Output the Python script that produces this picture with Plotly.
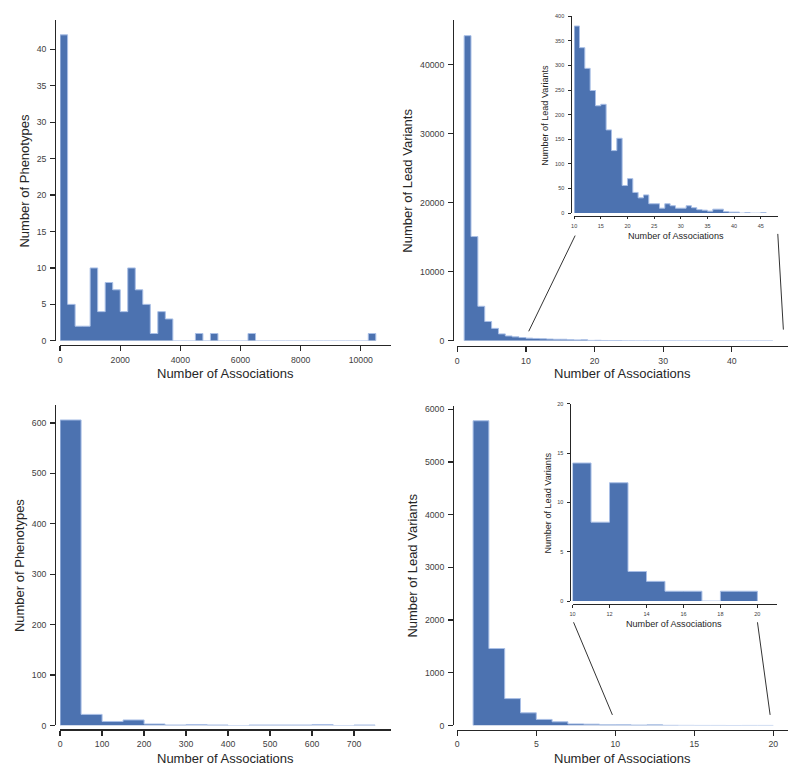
import plotly.graph_objects as go

W, H = 800, 778

# ---------------- data ----------------
# Top-left: phenotypes per number of associations, bin width 250 starting at 0
TL_BIN_WIDTH = 250
TL_COUNTS = [42, 5, 2, 2, 10, 4, 8, 7, 4, 10, 7, 5, 1, 4, 3,
             0, 0, 0, 1, 0, 1, 0, 0, 0, 0, 1,
             0, 0, 0, 0, 0, 0, 0, 0, 0, 0, 0, 0, 0, 0, 0, 1]
TL_START = 0

# Top-right: lead variants per number of associations, bins of width 1 from 1 to 46
TR_BIN_WIDTH = 1
TR_START = 1
TR_COUNTS = [44200, 15100, 5000, 2800, 1800, 1000, 700, 570, 470,
             380, 336, 294, 249, 218, 221, 169, 127, 152, 56,
             70, 42, 31, 37, 19, 19, 10, 19, 15, 10,
             10, 15, 11, 7, 6, 4, 8, 8, 3, 2,
             2, 0, 1, 0, 0, 1]
TR_INSET_FROM = 10

# Bottom-left: phenotypes, bin width 50 starting at 0
BL_BIN_WIDTH = 50
BL_START = 0
BL_COUNTS = [606, 22, 8, 11, 3, 1, 2, 1, 0, 1, 1, 1, 2, 0, 1]

# Bottom-right: lead variants, bins of width 1 from 1 to 20
BR_BIN_WIDTH = 1
BR_START = 1
BR_COUNTS = [5780, 1460, 510, 240, 115, 70, 30, 25, 12,
             14, 8, 12, 3, 2, 1, 1, 0, 1, 1]
BR_INSET_FROM = 10

X_TITLE = "Number of Associations"
Y_TITLE_PHEN = "Number of Phenotypes"
Y_TITLE_LEAD = "Number of Lead Variants"

FILL = "#4C72B0"
EDGE = "#a9bfe6"
INK = "#262626"
TICKINK = "#404040"
FONT = "Liberation Sans, Arial, sans-serif"


def fx(px):
    return px / W


def fy(py):
    return 1 - py / H


def step_trace(start, width, counts, xa, ya, from_x=None):
    edges = [start + i * width for i in range(len(counts) + 1)]
    cs = list(counts)
    if from_x is not None:
        k = edges.index(from_x)
        edges = edges[k:]
        cs = cs[k:]
    xs = [edges[0]] + edges[:-1] + [edges[-1]]
    ys = [0] + cs + [0]
    return go.Scatter(x=xs, y=ys, mode="lines", line=dict(shape="hv", color=EDGE, width=1),
                      fill="tozeroy", fillcolor=FILL, xaxis=xa, yaxis=ya,
                      hoverinfo="skip", showlegend=False)


fig = go.Figure()
fig.add_trace(step_trace(TL_START, TL_BIN_WIDTH, TL_COUNTS, "x", "y"))
fig.add_trace(step_trace(TR_START, TR_BIN_WIDTH, TR_COUNTS, "x2", "y2"))
fig.add_trace(step_trace(TR_START, TR_BIN_WIDTH, TR_COUNTS, "x3", "y3", from_x=TR_INSET_FROM))
fig.add_trace(step_trace(BL_START, BL_BIN_WIDTH, BL_COUNTS, "x4", "y4"))
fig.add_trace(step_trace(BR_START, BR_BIN_WIDTH, BR_COUNTS, "x5", "y5"))
fig.add_trace(step_trace(BR_START, BR_BIN_WIDTH, BR_COUNTS, "x6", "y6", from_x=BR_INSET_FROM))


def axes(n, xpx, ypx, xline_py, yline_px, xr, yr, xd, yd, fs, tl, lw, xso, yso):
    sfx = "" if n == 1 else str(n)
    common = dict(showline=True, linecolor=INK, linewidth=lw, ticks="outside", ticklen=tl,
                  tickwidth=lw, tickcolor=INK, showgrid=False, zeroline=False,
                  tickfont=dict(family=FONT, size=fs, color=TICKINK), anchor="free",
                  fixedrange=True, tickformat="d")
    xa = dict(common, domain=[fx(xpx[0]), fx(xpx[1])], range=xr, dtick=xd, tick0=0,
              position=fy(xline_py), ticklabelstandoff=xso)
    ya = dict(common, domain=[fy(ypx[1]), fy(ypx[0])], range=yr, dtick=yd, tick0=0,
              position=fx(yline_px), ticklabelstandoff=yso)
    return {"xaxis" + sfx: xa, "yaxis" + sfx: ya}


lay = {}
lay.update(axes(1, (57.3, 389.3), (16.7, 341.3), 345.7, 52.3, [0, 11000], [0, 44.1], 2000, 5, 8.7, 5, 1.25, 1, 2))
lay.update(axes(2, (456, 788.3), (16.7, 341.3), 346.7, 451.7, [0, 48.25], [0, 46540], 10, 10000, 8.7, 5, 1.25, 1, 2))
lay.update(axes(3, (573.3, 778.3), (13.3, 212.3), 215, 570, [10, 48.3], [0, 400], 5, 50, 5.5, 2.5, 1, 2, 3))
lay.update(axes(4, (57.3, 389.3), (406, 730), 734, 52.3, [0, 787.5], [0, 636], 100, 100, 8.7, 5, 1.25, 1, 2))
lay.update(axes(5, (456, 788.3), (406.7, 730), 734.3, 451.7, [0, 20.95], [0, 6069], 5, 1000, 8.7, 5, 1.25, 1, 2))
lay.update(axes(6, (571.7, 776.7), (405, 604.3), 607.3, 569, [10, 21.05], [0, 20], 2, 5, 5.5, 2.5, 1, 2, 3))


def title_ann(text, cx, cy, size, vertical=False):
    return dict(text=text, x=fx(cx), y=fy(cy), xref="paper", yref="paper", showarrow=False,
                xanchor="center", yanchor="middle", textangle=-90 if vertical else 0,
                font=dict(family=FONT, size=size, color=INK))


annotations = [
    title_ann(X_TITLE, 223.2, 374.5, 13),
    title_ann(Y_TITLE_PHEN, 21.5, 180, 13, True),
    title_ann(X_TITLE, 622, 374.5, 13),
    title_ann(Y_TITLE_LEAD, 406, 179, 13, True),
    title_ann(X_TITLE, 675.7, 235.5, 9.1),
    title_ann(Y_TITLE_LEAD, 544, 113, 9.1, True),
    title_ann(X_TITLE, 223.2, 763.3, 13),
    title_ann(Y_TITLE_PHEN, 16.7, 568.3, 13, True),
    title_ann(X_TITLE, 622, 763.3, 13),
    title_ann(Y_TITLE_LEAD, 411, 568, 13, True),
    title_ann(X_TITLE, 674, 627.8, 9.1),
    title_ann(Y_TITLE_LEAD, 546.7, 505, 9.1, True),
]


def conn(x0, y0, x1, y1):
    return dict(type="line", xref="paper", yref="paper", x0=fx(x0), y0=fy(y0), x1=fx(x1), y1=fy(y1),
                line=dict(color="#333333", width=1))


shapes = [
    conn(527.7, 331.7, 574.3, 235),
    conn(783.3, 330, 777.7, 233.3),
    conn(611.7, 719.3, 572.7, 625.7),
    conn(770, 719.3, 757.3, 625.7),
]

fig.update_layout(**lay)
fig.update_layout(width=W, height=H, margin=dict(l=0, r=0, t=0, b=0),
                  paper_bgcolor="white", plot_bgcolor="white",
                  annotations=annotations, shapes=shapes, showlegend=False,
                  font=dict(family=FONT, color=INK))

fig.write_html("out.html", config={"displayModeBar": False, "staticPlot": True},
               post_script="document.body.style.margin='0';document.body.style.overflow='hidden';")
